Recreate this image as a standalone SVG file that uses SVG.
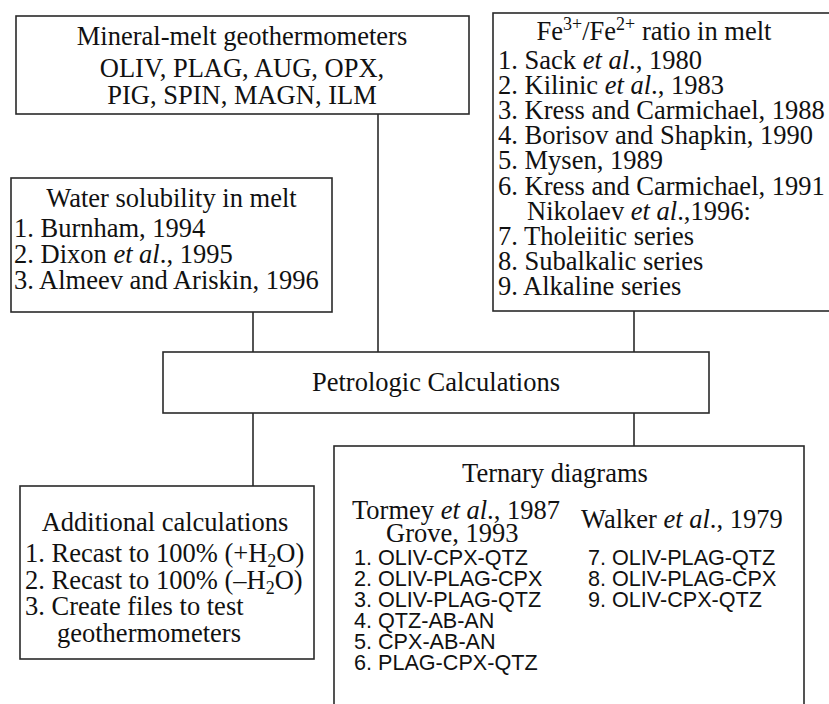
<svg xmlns="http://www.w3.org/2000/svg" width="829" height="704" viewBox="0 0 829 704">
<style>
.box{fill:#fff;stroke:#2a2a2a;stroke-width:1.6}
.ln{stroke:#2a2a2a;stroke-width:1.6;fill:none}
.t{font-family:"Liberation Serif","Times New Roman",serif;font-size:26.5px;fill:#111}
.s{font-family:"Liberation Sans",Arial,sans-serif;font-size:21.6px;fill:#111}
.m{text-anchor:middle}
.i{font-style:italic}
</style>
<rect width="829" height="704" fill="#fff"/>
<g id="connectors">
<line class="ln" x1="378" y1="114" x2="378" y2="352"/>
<line class="ln" x1="253" y1="312" x2="253" y2="352"/>
<line class="ln" x1="634" y1="311" x2="634" y2="352"/>
<line class="ln" x1="253" y1="413" x2="253" y2="486"/>
<line class="ln" x1="634" y1="413" x2="634" y2="446"/>
</g>
<g id="mineral">
<rect class="box" x="16" y="16" width="453" height="98"/>
<text class="t m" x="242" y="45">Mineral-melt geothermometers</text>
<text class="t m" x="242" y="77">OLIV, PLAG, AUG, OPX,</text>
<text class="t m" x="242" y="104">PIG, SPIN, MAGN, ILM</text>
</g>
<g id="water">
<rect class="box" x="11" y="178" width="321" height="134"/>
<text class="t m" x="171.5" y="207">Water solubility in melt</text>
<text class="t" x="14" y="237">1. Burnham, 1994</text>
<text class="t" x="14" y="263">2. Dixon <tspan class="i">et al</tspan>., 1995</text>
<text class="t" x="14" y="289">3. Almeev and Ariskin, 1996</text>
</g>
<g id="fe">
<rect class="box" x="493" y="13" width="345" height="298"/>
<text class="t m" x="654" y="40">Fe<tspan dy="-10" font-size="18">3+</tspan><tspan dy="10">/Fe</tspan><tspan dy="-10" font-size="18">2+</tspan><tspan dy="10"> ratio in melt</tspan></text>
<text class="t" x="498" y="69">1. Sack <tspan class="i">et al</tspan>., 1980</text>
<text class="t" x="498" y="94">2. Kilinic <tspan class="i">et al</tspan>., 1983</text>
<text class="t" x="498" y="119">3. Kress and Carmichael, 1988</text>
<text class="t" x="498" y="144">4. Borisov and Shapkin, 1990</text>
<text class="t" x="498" y="169">5. Mysen, 1989</text>
<text class="t" x="498" y="194.5">6. Kress and Carmichael, 1991</text>
<text class="t" x="527" y="219.5">Nikolaev <tspan class="i">et al</tspan>.,1996:</text>
<text class="t" x="498" y="244.5">7. Tholeiitic series</text>
<text class="t" x="498" y="270">8. Subalkalic series</text>
<text class="t" x="498" y="295">9. Alkaline series</text>
</g>
<g id="petrologic">
<rect class="box" x="163" y="352" width="546" height="61"/>
<text class="t m" x="436" y="391">Petrologic Calculations</text>
</g>
<g id="additional">
<rect class="box" x="20" y="486" width="294" height="173"/>
<text class="t m" x="165" y="531">Additional calculations</text>
<text class="t" x="25" y="562">1. Recast to 100% (+H<tspan dy="5" font-size="18">2</tspan><tspan dy="-5">O)</tspan></text>
<text class="t" x="25" y="589">2. Recast to 100% (–H<tspan dy="5" font-size="18">2</tspan><tspan dy="-5">O)</tspan></text>
<text class="t" x="25" y="615">3. Create files to test</text>
<text class="t" x="57" y="642">geothermometers</text>
</g>
<g id="ternary">
<rect class="box" x="334" y="446" width="470" height="280"/>
<text class="t m" x="555" y="482">Ternary diagrams</text>
<text class="t" x="352" y="519">Tormey <tspan class="i">et al</tspan>., 1987</text>
<text class="t" x="386" y="542">Grove, 1993</text>
<text class="t" x="581" y="528">Walker <tspan class="i">et al</tspan>., 1979</text>
<text class="s" x="354" y="565">1. OLIV-CPX-QTZ</text>
<text class="s" x="354" y="586">2. OLIV-PLAG-CPX</text>
<text class="s" x="354" y="607">3. OLIV-PLAG-QTZ</text>
<text class="s" x="354" y="628">4. QTZ-AB-AN</text>
<text class="s" x="354" y="649">5. CPX-AB-AN</text>
<text class="s" x="354" y="670">6. PLAG-CPX-QTZ</text>
<text class="s" x="588" y="565">7. OLIV-PLAG-QTZ</text>
<text class="s" x="588" y="586">8. OLIV-PLAG-CPX</text>
<text class="s" x="588" y="607">9. OLIV-CPX-QTZ</text>
</g>
</svg>
